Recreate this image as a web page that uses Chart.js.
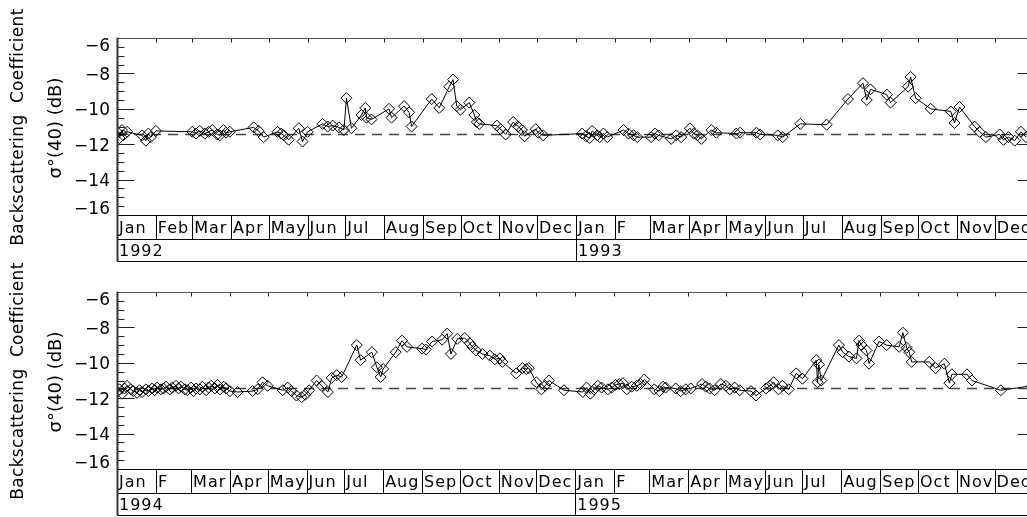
<!DOCTYPE html>
<html>
<head>
<meta charset="utf-8">
<script src="https://cdn.jsdelivr.net/npm/chart.js@4.4.1/dist/chart.umd.min.js"></script>
<style>
  html, body { margin: 0; padding: 0; background: #fff; overflow: hidden; width: 1027px; height: 517px; }
  .panel { position: absolute; left: 0; }
</style>
</head>
<body>
<div class="panel" style="top:0px"><canvas id="chart1" width="1040" height="262"></canvas></div>
<div class="panel" style="top:254px"><canvas id="chart2" width="1040" height="262"></canvas></div>
<script>
// day of year for each observation, and sigma0(40) in dB
const days1992 = [0, 2, 4, 5, 8, 20, 23, 25, 27, 31,
  60, 63, 66, 70, 73, 76, 80, 82, 85, 87, 90, 109, 113, 117, 128, 131, 133, 137,
  145, 148, 152, 164, 168, 172, 177, 181, 183, 187, 195, 198, 199, 203, 217, 219,
  229, 233, 235, 251, 257, 265, 268, 271, 274, 281, 285, 287, 289, 303, 306, 310,
  316, 320, 323, 325, 334, 336, 340];
const sigma1992 = [-11.3, -11.65, -11.2, -11.5, -11.3, -11.5, -11.8, -11.4, -11.6, -11.25,
  -11.3, -11.4, -11.25, -11.4, -11.3, -11.2, -11.45, -11.5, -11.2, -11.35, -11.3, -11.05, -11.25, -11.6, -11.3, -11.4, -11.5, -11.75,
  -11.1, -11.85, -11.3, -10.85, -11.0, -10.95, -11.05, -11.2, -9.4, -11.1, -10.35, -9.95, -10.5, -10.6, -10.0, -10.5,
  -9.85, -10.2, -11.0, -9.45, -9.95, -8.75, -8.35, -9.85, -10.05, -9.65, -10.35, -10.75, -10.85, -10.95, -11.15, -11.45,
  -10.75, -11.0, -11.2, -11.55, -11.15, -11.35, -11.5];

const days1993 = [5, 8, 11, 13, 17, 19, 22, 25, 38, 42, 46, 49, 60, 63, 66, 76, 80, 84,
  91, 94, 97, 100, 108, 112, 128, 131, 144, 147, 161, 165, 179, 200, 217, 229, 232, 235,
  248, 251, 265, 267, 271, 283, 299, 302, 306, 318, 322, 327, 338, 341, 345, 350, 355, 359];
const sigma1993 = [-11.4, -11.55, -11.65, -11.25, -11.5, -11.6, -11.4, -11.6, -11.2, -11.4, -11.5, -11.6, -11.6, -11.4, -11.5, -11.7, -11.5, -11.6,
  -11.1, -11.4, -11.5, -11.7, -11.2, -11.35, -11.4, -11.35, -11.35, -11.45, -11.5, -11.6, -10.85, -10.9, -9.45, -8.55, -9.5, -8.9,
  -9.2, -9.65, -8.75, -8.2, -9.4, -10.0, -10.15, -10.8, -9.9, -11.0, -11.3, -11.6, -11.45, -11.75, -11.6, -11.8, -11.3, -11.6];

const days1994 = [0, 2, 4, 6, 8, 11, 13, 16, 18, 20, 23, 25, 28, 30, 32, 35, 37, 39, 42, 44,
  47, 49, 51, 54, 56, 59, 61, 63, 66, 68, 71, 73, 75, 78, 80, 82, 85, 87, 90,
  96, 108, 112, 116, 120, 132, 136, 139, 143, 147, 150, 153, 159, 163, 168, 171, 175, 179,
  191, 194, 203, 207, 210, 212, 222, 227, 231, 243, 246, 251, 259, 263, 266, 271, 277,
  281, 283, 286, 291, 297, 301, 305, 307, 318, 323, 326, 328, 334, 338, 341, 344, 356];
const sigma1994 = [-11.65, -11.5, -11.75, -11.45, -11.3, -11.5, -11.6, -11.7, -11.55, -11.65, -11.5, -11.6, -11.45, -11.55, -11.4, -11.5, -11.45, -11.35, -11.5, -11.4,
  -11.3, -11.45, -11.35, -11.5, -11.55, -11.4, -11.6, -11.45, -11.5, -11.35, -11.55, -11.4, -11.3, -11.45, -11.25, -11.5, -11.35, -11.45, -11.6,
  -11.65, -11.6, -11.5, -11.1, -11.3, -11.55, -11.4, -11.6, -11.85, -11.95, -11.8, -11.55, -11.0, -11.3, -11.65, -10.85, -10.7, -10.8,
  -9.0, -9.85, -9.4, -10.25, -10.8, -10.35, -9.4, -8.75, -9.1, -9.2, -9.25, -8.8, -8.7, -8.35, -9.5, -8.65, -8.6,
  -8.9, -9.1, -9.3, -9.5, -9.6, -9.8, -9.75, -9.95, -10.6, -10.3, -10.35, -10.3, -11.1, -11.5, -11.3, -11.0, -11.55];

const days1995 = [6, 9, 12, 15, 18, 21, 26, 29, 32, 35, 38, 41, 45, 49, 52, 55, 63, 67, 70, 72,
  80, 84, 88, 92, 101, 104, 107, 111, 116, 120, 123, 127, 131, 140, 144, 152, 155, 158, 162, 165,
  170, 176, 181, 192, 193, 194, 196, 210, 213, 218, 224, 226, 228, 232, 234, 242, 248,
  258, 261, 264, 266, 268, 282, 287, 294, 298, 300, 312, 316, 339, 364];
const sigma1995 = [-11.65, -11.4, -11.75, -11.5, -11.3, -11.4, -11.5, -11.4, -11.25, -11.2, -11.15, -11.5, -11.35, -11.3, -11.2, -10.95, -11.5, -11.6, -11.35, -11.4,
  -11.45, -11.6, -11.5, -11.45, -11.2, -11.35, -11.45, -11.55, -11.2, -11.3, -11.5, -11.4, -11.55, -11.6, -11.85, -11.45, -11.3, -11.1, -11.5, -11.3,
  -11.5, -10.6, -10.9, -9.85, -11.1, -10.1, -11.0, -9.0, -9.4, -9.65, -9.75, -8.75, -9.0, -9.3, -10.05, -8.8, -9.0,
  -9.1, -8.3, -9.15, -9.4, -9.95, -9.95, -10.3, -10.05, -11.15, -10.65, -10.65, -11.0, -11.55, -11.3];

const meanSigma = -11.45;
const yTicks = [-6, -8, -10, -12, -14, -16];

const monthStarts9293 = [0, 31, 60, 91, 121, 152, 182, 213, 244, 274, 305, 335,
  366, 397, 425, 456, 486, 517, 547, 578, 609, 639, 670, 700, 731];
const monthLabels9293 = ['Jan', 'Feb', 'Mar', 'Apr', 'May', 'Jun', 'Jul', 'Aug', 'Sep', 'Oct', 'Nov', 'Dec',
  'Jan', 'F', 'Mar', 'Apr', 'May', 'Jun', 'Jul', 'Aug', 'Sep', 'Oct', 'Nov', 'Dec'];
const yearStarts9293 = [0, 366, 731];
const yearLabels9293 = ['1992', '1993'];

const monthStarts9495 = [0, 31, 59, 90, 120, 151, 181, 212, 243, 273, 304, 334,
  365, 396, 424, 455, 485, 516, 546, 577, 608, 638, 669, 699, 730];
const monthLabels9495 = ['Jan', 'F', 'Mar', 'Apr', 'May', 'Jun', 'Jul', 'Aug', 'Sep', 'Oct', 'Nov', 'Dec',
  'Jan', 'F', 'Mar', 'Apr', 'May', 'Jun', 'Jul', 'Aug', 'Sep', 'Oct', 'Nov', 'Dec'];
const yearStarts9495 = [0, 365, 730];
const yearLabels9495 = ['1994', '1995'];

function toPoints(days, vals, offset) {
  return days.map((d, i) => ({ x: d + offset, y: vals[i] }));
}

// axes box, inward ticks, month/year rows, titles
const frame = {
  id: 'frame',
  afterDatasetsDraw(chart, args, o) {
    const { ctx, chartArea: a, scales: { x, y } } = chart;
    const L = Math.round(a.left) + 0.5, R = Math.round(a.right) + 0.5;
    const T = Math.round(a.top) + 0.5, B = Math.round(a.bottom) + 0.5;
    const mid = B + 24, bot = B + 46;
    const seg = (x1, y1, x2, y2) => { ctx.beginPath(); ctx.moveTo(x1, y1); ctx.lineTo(x2, y2); ctx.stroke(); };
    ctx.save();
    ctx.lineWidth = 1;
    ctx.strokeStyle = '#222';
    for (let v = -16; v <= -6; v += 0.5) {
      const py = Math.round(y.getPixelForValue(v)) + 0.5;
      const len = v % 2 === 0 ? 17 : 7;
      seg(L, py, L + len, py);
      seg(R - len, py, R, py);
    }
    o.months.forEach(m => {
      const px = Math.round(x.getPixelForValue(m)) + 0.5;
      seg(px, T, px, T + 4);
    });
    ctx.strokeStyle = '#555';
    seg(L, T, R, T);
    ctx.strokeStyle = '#000';
    seg(L, B, R, B);
    seg(L, mid, R, mid);
    seg(L, bot, R, bot);
    o.months.forEach(m => {
      const px = Math.round(x.getPixelForValue(m)) + 0.5;
      seg(px, B, px, mid);
    });
    o.years.forEach(m => {
      const px = Math.round(x.getPixelForValue(m)) + 0.5;
      seg(px, B, px, bot);
    });
    ctx.strokeStyle = '#333';
    ctx.lineWidth = 2;
    seg(L, T - 1, L, bot);
    seg(R, T - 1, R, B);

    ctx.fillStyle = '#000';
    ctx.textBaseline = 'middle';
    ctx.textAlign = 'left';
    ctx.font = '16px "DejaVu Sans"';
    ctx.letterSpacing = '1px';
    o.monthLabels.forEach((t, i) => {
      ctx.fillText(t, x.getPixelForValue(o.months[i]) + 2, B + 13);
    });
    o.yearLabels.forEach((t, i) => {
      ctx.fillText(t, x.getPixelForValue(o.years[i]) + 2, mid + 12);
    });
    ctx.letterSpacing = '0px';
    ctx.textAlign = 'right';
    ctx.font = '17px "DejaVu Sans"';
    o.yTicks.forEach(v => {
      let py = y.getPixelForValue(v) + 2;
      py = Math.min(Math.max(py, a.top + 9), a.bottom - 5);
      ctx.fillText('\u2212' + Math.abs(v), 110, py);
    });
    ctx.textAlign = 'center';
    ctx.save();
    ctx.translate(19, 127);
    ctx.rotate(-Math.PI / 2);
    ctx.font = '17px "DejaVu Sans"';
    ctx.letterSpacing = '0.3px';
    ctx.fillText('Backscattering  Coefficient', 0, 0);
    ctx.restore();
    ctx.save();
    ctx.translate(56, 128);
    ctx.rotate(-Math.PI / 2);
    ctx.font = '18px "DejaVu Sans"';
    ctx.fillText('\u03c3\u00b0(40) (dB)', 0, 0);
    ctx.restore();
    ctx.restore();
  }
};

function makePanel(id, pts, xMax, months, monthLabels, years, yearLabels) {
  new Chart(document.getElementById(id), {
    type: 'line',
    data: {
      datasets: [
        {
          data: pts,
          borderColor: '#000',
          borderWidth: 1,
          pointStyle: 'rectRot',
          pointRadius: 5.5,
          pointBorderWidth: 1,
          pointBorderColor: '#000',
          pointBackgroundColor: 'rgba(0,0,0,0)',
          tension: 0,
          order: 1
        },
        {
          data: [{ x: 0, y: meanSigma }, { x: xMax, y: meanSigma }],
          borderColor: '#444',
          borderWidth: 1.5,
          borderDash: [10, 7],
          pointRadius: 0,
          order: 2
        }
      ]
    },
    options: {
      responsive: false,
      animation: false,
      layout: { padding: { left: 117, top: 38, right: 5, bottom: 47 } },
      scales: {
        x: { type: 'linear', min: 0, max: xMax, display: false },
        y: { min: -16, max: -6, display: false }
      },
      plugins: {
        legend: { display: false },
        tooltip: { enabled: false },
        frame: { months: months.slice(0, -1), monthLabels, years: years.slice(0, -1), yearLabels, yTicks }
      }
    },
    plugins: [frame]
  });
}

makePanel('chart1',
  toPoints(days1992, sigma1992, 0).concat(toPoints(days1993, sigma1993, 366)),
  731, monthStarts9293, monthLabels9293, yearStarts9293, yearLabels9293);
makePanel('chart2',
  toPoints(days1994, sigma1994, 0).concat(toPoints(days1995, sigma1995, 365)),
  730, monthStarts9495, monthLabels9495, yearStarts9495, yearLabels9495);
</script>
</body>
</html>
